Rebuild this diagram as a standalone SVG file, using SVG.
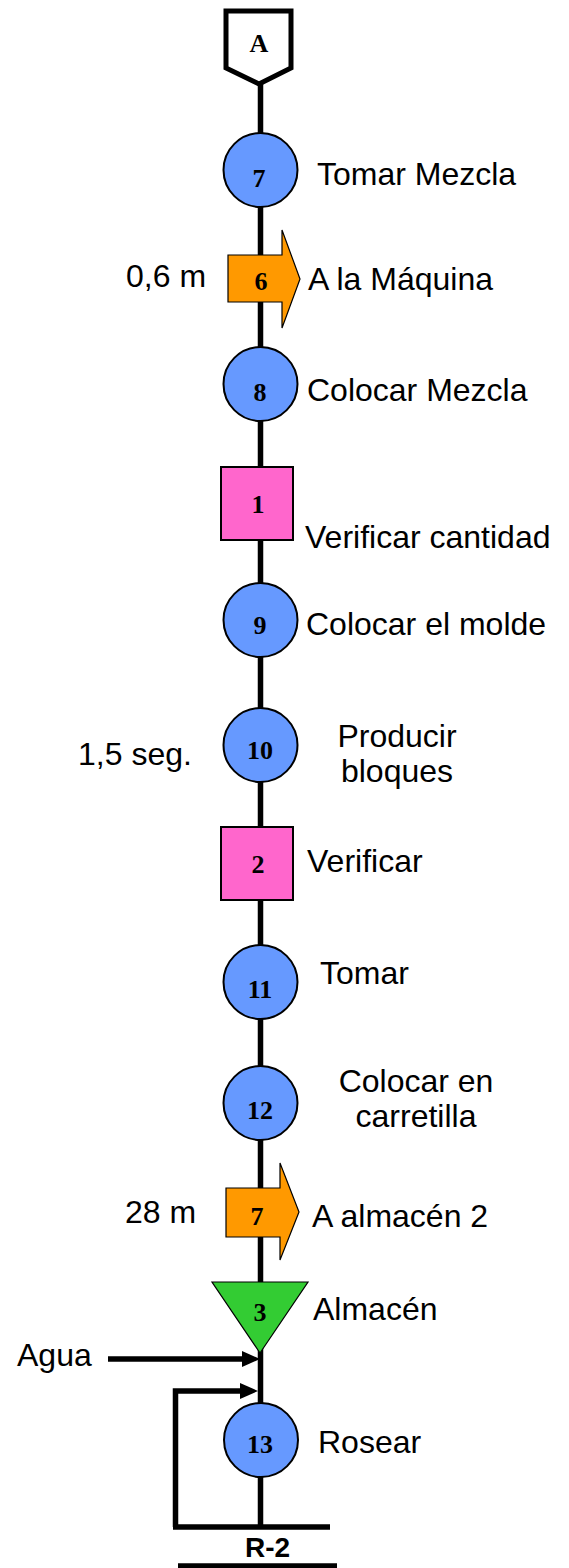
<svg xmlns="http://www.w3.org/2000/svg" width="569" height="1568" viewBox="0 0 569 1568">
  <style>
    .lbl { font-family: "Liberation Sans", Arial, sans-serif; font-size: 32px; fill: #000; }
    .num { font-family: "Liberation Serif", "Times New Roman", serif; font-size: 26px; font-weight: bold; fill: #000; text-anchor: middle; }
    .op { fill: #6699FF; stroke: #000; stroke-width: 2; }
    .tr { fill: #FF9900; stroke: #000; stroke-width: 1.2; }
    .ins { fill: #FF66CC; stroke: #000; stroke-width: 2; }
    .st { fill: #33CC33; stroke: #000; stroke-width: 1.2; }
    .flow { fill: none; stroke: #000; stroke-width: 5.5; }
  </style>
  <defs>
    <marker id="head" markerUnits="userSpaceOnUse" markerWidth="18" markerHeight="16" viewBox="0 0 18 16" refX="0" refY="8" orient="auto">
      <polygon points="0,0 18,8 0,16" fill="#000"/>
    </marker>
  </defs>

  <!-- connectors -->
  <g id="connectors">
    <path class="flow" d="M260.5 84 V1527"/>
    <path class="flow" d="M108 1359 H242" marker-end="url(#head)"/>
    <path class="flow" d="M175.5 1527 V1391 H240" marker-end="url(#head)"/>
    <path class="flow" d="M173 1527 H330"/>
    <path class="flow" stroke-width="4" d="M178 1566 H337"/>
  </g>

  <!-- off-page connector A -->
  <g id="conn-A">
    <polygon points="226,11 291,11 291,68 259,84 226,68" fill="#fff" stroke="#000" stroke-width="5"/>
    <text class="num" x="259" y="52">A</text>
  </g>

  <g id="op7">
    <circle class="op" cx="260.5" cy="170" r="37"/>
    <text class="num" x="259" y="187">7</text>
    <text class="lbl" x="317" y="185">Tomar Mezcla</text>
  </g>

  <g id="tr6">
    <polygon class="tr" points="228,255 282,255 282,230 300,279 282,328 282,302 228,302"/>
    <text class="num" x="261" y="290">6</text>
    <text class="lbl" x="126" y="287">0,6 m</text>
    <text class="lbl" x="308" y="290">A la Máquina</text>
  </g>

  <g id="op8">
    <circle class="op" cx="260.5" cy="384" r="37"/>
    <text class="num" x="260" y="401">8</text>
    <text class="lbl" x="307" y="401">Colocar Mezcla</text>
  </g>

  <g id="ins1">
    <rect class="ins" x="221" y="467" width="72" height="73"/>
    <text class="num" x="258" y="513">1</text>
    <text class="lbl" x="305" y="548">Verificar cantidad</text>
  </g>

  <g id="op9">
    <circle class="op" cx="260.5" cy="620" r="37"/>
    <text class="num" x="260" y="634">9</text>
    <text class="lbl" x="306" y="635">Colocar el molde</text>
  </g>

  <g id="op10">
    <circle class="op" cx="260.5" cy="745" r="37"/>
    <text class="num" x="260" y="759">10</text>
    <text class="lbl" x="78" y="765">1,5 seg.</text>
    <text class="lbl" x="397" y="747" text-anchor="middle">Producir</text>
    <text class="lbl" x="397" y="782" text-anchor="middle">bloques</text>
  </g>

  <g id="ins2">
    <rect class="ins" x="221" y="827" width="72" height="73"/>
    <text class="num" x="258" y="873">2</text>
    <text class="lbl" x="307" y="872">Verificar</text>
  </g>

  <g id="op11">
    <circle class="op" cx="260.5" cy="982" r="37"/>
    <text class="num" x="260" y="998">11</text>
    <text class="lbl" x="320" y="984">Tomar</text>
  </g>

  <g id="op12">
    <circle class="op" cx="260.5" cy="1103" r="37"/>
    <text class="num" x="260" y="1119">12</text>
    <text class="lbl" x="416" y="1092" text-anchor="middle">Colocar en</text>
    <text class="lbl" x="416" y="1127" text-anchor="middle">carretilla</text>
  </g>

  <g id="tr7">
    <polygon class="tr" points="226,1188 280,1188 280,1163 299,1212 280,1260 280,1237 226,1237"/>
    <text class="num" x="257" y="1225">7</text>
    <text class="lbl" x="125" y="1223">28 m</text>
    <text class="lbl" x="312" y="1227">A almacén 2</text>
  </g>

  <g id="st3">
    <polygon class="st" points="212,1282 308,1282 260,1353"/>
    <text class="num" x="260" y="1321">3</text>
    <text class="lbl" x="313" y="1320">Almacén</text>
  </g>

  <g id="agua">
    <text class="lbl" x="17" y="1366">Agua</text>
  </g>

  <g id="op13">
    <circle class="op" cx="261" cy="1440" r="37"/>
    <text class="num" x="260" y="1453">13</text>
    <text class="lbl" x="318" y="1453">Rosear</text>
  </g>

  <g id="r2">
    <text x="267.5" y="1557" font-family="'Liberation Sans', Arial, sans-serif" font-size="28" font-weight="bold" text-anchor="middle">R-2</text>
  </g>
</svg>
